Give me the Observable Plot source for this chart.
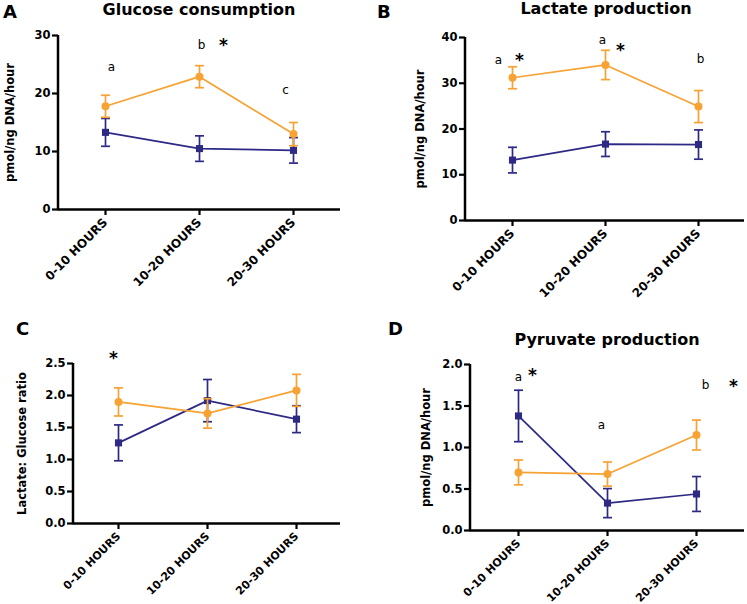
<!DOCTYPE html>
<html><head><meta charset="utf-8">
<script src="https://cdn.jsdelivr.net/npm/d3@7"></script>
<script src="https://cdn.jsdelivr.net/npm/@observablehq/plot@0.6"></script>
<style>
html,body{margin:0;padding:0;background:#fff}
body{width:747px;height:604px;position:relative;overflow:hidden;font-family:"DejaVu Sans",sans-serif}
.panel{position:absolute}
.letter{position:absolute;font-weight:bold;font-size:18px;line-height:18px}
.title{position:absolute;font-weight:bold;font-size:16px;line-height:16px;white-space:nowrap;transform:translateX(-50%)}
</style></head><body>
<script>
// ---- data ----
const hours = ["0-10 HOURS", "10-20 HOURS", "20-30 HOURS"];

// A: Glucose consumption (pmol/ng DNA/hour)
const glucoseOrange = [17.8, 22.9, 13.0];
const glucoseOrangeErr = [1.9, 1.9, 2.0];
const glucoseBlue = [13.3, 10.5, 10.2];
const glucoseBlueErr = [2.4, 2.2, 2.2];
const glucoseNotes = ["a", "b", "*", "c"];
const glucoseNoteHour = ["0-10 HOURS", "10-20 HOURS", "10-20 HOURS", "20-30 HOURS"];
const glucoseNoteValue = [24.5, 28.3, 29.1, 20.5];

// B: Lactate production (pmol/ng DNA/hour)
const lactateOrange = [31.2, 34.0, 24.9];
const lactateOrangeErr = [2.4, 3.2, 3.5];
const lactateBlue = [13.2, 16.7, 16.6];
const lactateBlueErr = [2.8, 2.7, 3.2];
const lactateNotes = ["a", "*", "a", "*", "b"];
const lactateNoteHour = ["0-10 HOURS", "0-10 HOURS", "10-20 HOURS", "10-20 HOURS", "20-30 HOURS"];
const lactateNoteValue = [35.1, 36.0, 39.4, 38.2, 35.3];

// C: Lactate : Glucose ratio
const ratioOrange = [1.90, 1.72, 2.08];
const ratioOrangeErr = [0.22, 0.23, 0.25];
const ratioBlue = [1.26, 1.92, 1.63];
const ratioBlueErr = [0.28, 0.33, 0.21];
const ratioNotes = ["*"];
const ratioNoteHour = ["0-10 HOURS"];
const ratioNoteValue = [2.65];

// D: Pyruvate production (pmol/ng DNA/hour)
const pyruvateOrange = [0.70, 0.68, 1.15];
const pyruvateOrangeErr = [0.15, 0.145, 0.18];
const pyruvateBlue = [1.38, 0.33, 0.44];
const pyruvateBlueErr = [0.31, 0.175, 0.21];
const pyruvateNotes = ["a", "*", "a", "b", "*"];
const pyruvateNoteHour = ["0-10 HOURS", "0-10 HOURS", "10-20 HOURS", "20-30 HOURS", "20-30 HOURS"];
const pyruvateNoteValue = [1.85, 1.93, 1.27, 1.75, 1.79];

const ORANGE = "#F7A232";
const BLUE = "#2D2A86";

// horizontal cap symbol for error bars
const capSymbol = {draw(ctx) { ctx.moveTo(-4.5, 0); ctx.lineTo(4.5, 0); }};

function rows(vals, errs) {
  return hours.map((h, i) => ({hour: h, v: vals[i], lo: vals[i] - errs[i], hi: vals[i] + errs[i]}));
}

function panel(cfg) {
  const orange = rows(cfg.orange, cfg.orangeErr);
  const blue = rows(cfg.blue, cfg.blueErr);
  const notes = cfg.notes.map((t, i) => ({t, hour: cfg.noteHour[i], v: cfg.noteValue[i]}));
  const series = (data, color, symbol) => [
    Plot.ruleX(data, {x: "hour", y1: "lo", y2: "hi", stroke: color, strokeWidth: 1.7}),
    Plot.dot(data, {x: "hour", y: "hi", symbol: capSymbol, stroke: color, fill: "none", strokeWidth: 1.7}),
    Plot.dot(data, {x: "hour", y: "lo", symbol: capSymbol, stroke: color, fill: "none", strokeWidth: 1.7}),
    Plot.line(data, {x: "hour", y: "v", stroke: color, strokeWidth: 1.7}),
    Plot.dot(data, {x: "hour", y: "v", fill: color, stroke: "none", symbol, r: 4})
  ];
  const noteMarks = notes.map((n, i) => n.t === "*"
    ? Plot.text([n], {x: "hour", y: "v", text: "t", dx: cfg.noteDx[i], dy: 5, fontSize: 17, fontWeight: "bold", fill: "black"})
    : Plot.text([n], {x: "hour", y: "v", text: "t", dx: cfg.noteDx[i], fontSize: 12, fontWeight: "normal", fill: "black"}));
  const chart = Plot.plot({
    width: cfg.width, height: 302,
    marginLeft: cfg.mL, marginRight: cfg.mR, marginTop: cfg.mT, marginBottom: cfg.mB,
    style: {fontFamily: "DejaVu Sans", fontSize: "11px", fontWeight: "bold", color: "black", background: "transparent", overflow: "visible"},
    x: {type: "point", domain: hours, padding: cfg.padding},
    y: {domain: cfg.yDomain},
    marks: [
      Plot.axisY({ticks: cfg.yTicks, tickFormat: cfg.yFormat, tickSize: 6, tickPadding: 2, strokeWidth: 2.2,
        label: cfg.yLabel, labelAnchor: "center", labelOffset: cfg.labelOffset, labelArrow: "none", fontSize: 11.5}),
      Plot.axisX({tickRotate: -45, tickSize: 6, tickPadding: 5, strokeWidth: 2.2, label: null, fontSize: cfg.xFont}),
      Plot.ruleY([cfg.yDomain[0]], {stroke: "black", strokeWidth: 2.5}),
      (index, scales, values, dims) => d3.create("svg:line")
        .attr("x1", dims.marginLeft).attr("x2", dims.marginLeft)
        .attr("y1", scales.y(cfg.yDomain[1])).attr("y2", scales.y(cfg.yDomain[0]) + 1.25)
        .attr("stroke", "black").attr("stroke-width", 2.5).node(),
      ...series(blue, BLUE, "square"),
      ...series(orange, ORANGE, "circle"),
      ...noteMarks
    ]
  });
  const div = document.createElement("div");
  div.className = "panel";
  div.style.left = cfg.left + "px";
  div.style.top = cfg.top + "px";
  div.appendChild(chart);
  document.body.appendChild(div);
}

function label(cls, text, left, top) {
  const d = document.createElement("div");
  d.className = cls;
  d.textContent = text;
  d.style.left = left + "px";
  d.style.top = top + "px";
  document.body.appendChild(d);
}

panel({left: 0, top: 0, width: 373, mL: 58, mR: 33, mT: 35, mB: 93, padding: 0.5, xFont: 12,
  yDomain: [0, 30], yTicks: [0, 10, 20, 30], yFormat: d3.format("d"), yLabel: "pmol/ng DNA/hour", labelOffset: 53,
  orange: glucoseOrange, orangeErr: glucoseOrangeErr, blue: glucoseBlue, blueErr: glucoseBlueErr,
  notes: glucoseNotes, noteHour: glucoseNoteHour, noteValue: glucoseNoteValue, noteDx: [6, 2, 24, -8]});
panel({left: 373, top: 0, width: 374, mL: 92, mR: 3, mT: 37, mB: 82, padding: 0.5, xFont: 12,
  yDomain: [0, 40], yTicks: [0, 10, 20, 30, 40], yFormat: d3.format("d"), yLabel: "pmol/ng DNA/hour", labelOffset: 50,
  orange: lactateOrange, orangeErr: lactateOrangeErr, blue: lactateBlue, blueErr: lactateBlueErr,
  notes: lactateNotes, noteHour: lactateNoteHour, noteValue: lactateNoteValue, noteDx: [-14, 7, -3, 15, 2]});
panel({left: 0, top: 302, width: 373, mL: 73, mR: 33, mT: 61, mB: 81, padding: 0.5, xFont: 11,
  yDomain: [0, 2.5], yTicks: [0, 0.5, 1, 1.5, 2, 2.5], yFormat: d3.format(".1f"), yLabel: "Lactate: Glucose ratio", labelOffset: 56,
  orange: ratioOrange, orangeErr: ratioOrangeErr, blue: ratioBlue, blueErr: ratioBlueErr,
  notes: ratioNotes, noteHour: ratioNoteHour, noteValue: ratioNoteValue, noteDx: [-5]});
panel({left: 373, top: 302, width: 374, mL: 97, mR: 3, mT: 62, mB: 74, padding: 0.53, xFont: 11,
  yDomain: [0, 2], yTicks: [0, 0.5, 1, 1.5, 2], yFormat: d3.format(".1f"), yLabel: "pmol/ng DNA/hour", labelOffset: 49,
  orange: pyruvateOrange, orangeErr: pyruvateOrangeErr, blue: pyruvateBlue, blueErr: pyruvateBlueErr,
  notes: pyruvateNotes, noteHour: pyruvateNoteHour, noteValue: pyruvateNoteValue, noteDx: [0, 14, -6, 9, 37]});

label("letter", "A", 3, 3);
label("letter", "B", 377, 3);
label("letter", "C", 16, 320);
label("letter", "D", 388, 320);
label("title", "Glucose consumption", 199, 2);
label("title", "Lactate production", 606, 1);
label("title", "Pyruvate production", 607, 332);
</script>
</body></html>
